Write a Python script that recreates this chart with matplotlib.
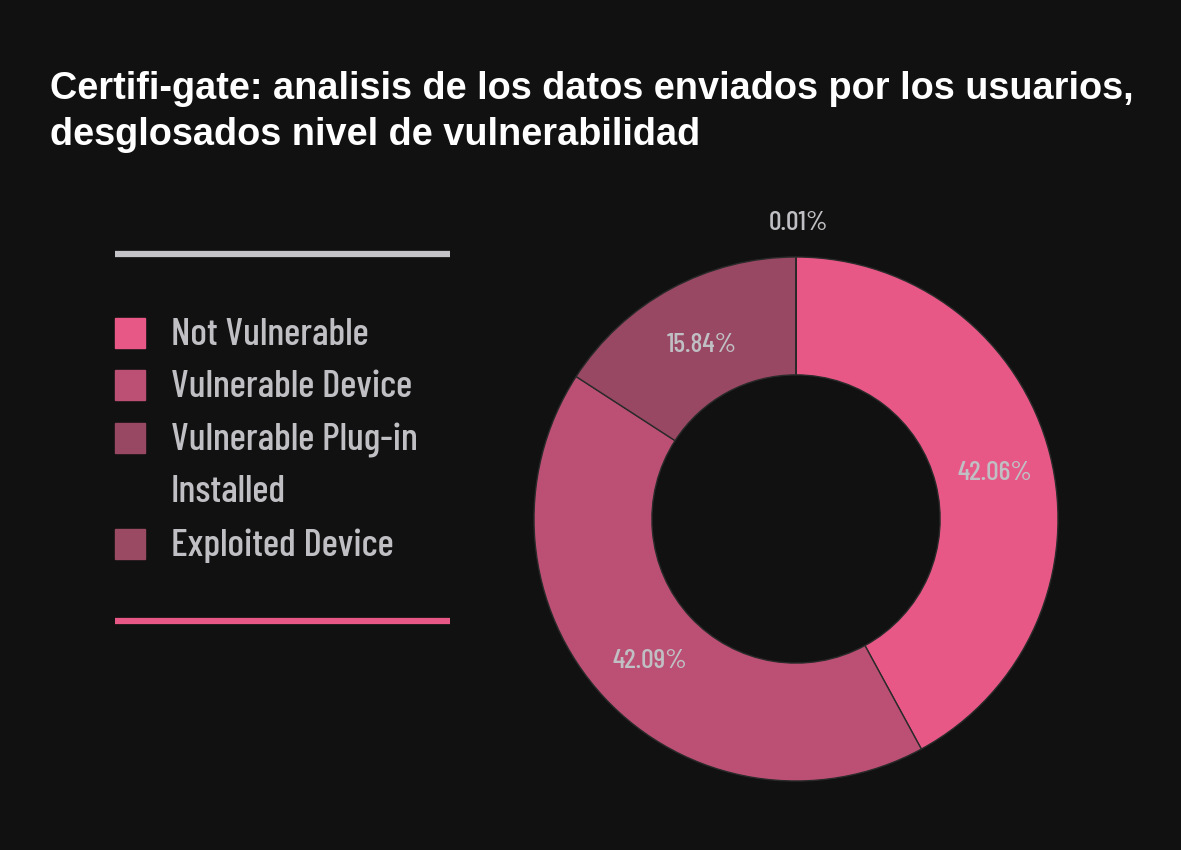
import numpy as np
import matplotlib.pyplot as plt
from matplotlib.patches import Rectangle
from matplotlib.lines import Line2D

labels = ["Not Vulnerable", "Vulnerable Device", "Vulnerable Plug-in\nInstalled", "Exploited Device"]
values = [42.06, 42.09, 15.84, 0.01]
colors = ["#e75887", "#bb5074", "#984862", "#9a4a62"]

BG = "#111111"
TXT = "#c0c0c4"
narrow = ["Barlow Condensed", "Roboto Condensed", "Liberation Sans"]

W, H = 1181, 850
fig = plt.figure(figsize=(W / 100, H / 100), dpi=100, facecolor=BG)

# title
title_font = dict(color="white", fontsize=27.3, fontweight="bold", family="Liberation Sans",
                  va="center", ha="left")
fig.text(50 / W, 1 - 89 / H, "Certifi-gate: analisis de los datos enviados por los usuarios,", **title_font)
fig.text(50 / W, 1 - 135 / H, "desglosados nivel de vulnerabilidad", **title_font)

# legend block
fig.add_artist(Line2D([115 / W, 450 / W], [1 - 254 / H] * 2, color="#c4c4c8", lw=4.5,
                      solid_capstyle="butt"))
fig.add_artist(Line2D([115 / W, 450 / W], [1 - 621 / H] * 2, color="#e75887", lw=4.5,
                      solid_capstyle="butt"))
sq_top = [318, 370, 423, 529]
for lab, col, y in zip(labels, colors, sq_top):
    fig.add_artist(Rectangle((115 / W, 1 - (y + 30) / H), 30 / W, 30 / H,
                             transform=fig.transFigure, color=col))
    for k, line in enumerate(lab.split("\n")):
        fig.text(171 / W, 1 - (y + 17 + 52 * k) / H, line, color=TXT, fontsize=28,
                 family=narrow, fontweight="medium", va="center", ha="left")

# donut
cx, cy, r = 796, 519, 262
ax = fig.add_axes([(cx - r) / W, (H - cy - r) / H, 2 * r / W, 2 * r / H])
ax.set_facecolor(BG)
wedges, _ = ax.pie(values, colors=colors, startangle=90, counterclock=False,
                   wedgeprops=dict(width=0.45, edgecolor="#2a2a2a", linewidth=1))
ax.set_xlim(-1, 1)
ax.set_ylim(-1, 1)
ax.axis("off")

for w, v in zip(wedges, values):
    ang = np.deg2rad((w.theta1 + w.theta2) / 2)
    d = 0.775 if v > 1 else 1.145
    ax.text(d * np.cos(ang) + 0.01, d * np.sin(ang) - 0.015, f"{v:.2f}%", color=TXT, fontsize=20,
            family=narrow, fontweight="medium", ha="center", va="center")

fig.savefig("out.png", dpi=100, facecolor=BG)
